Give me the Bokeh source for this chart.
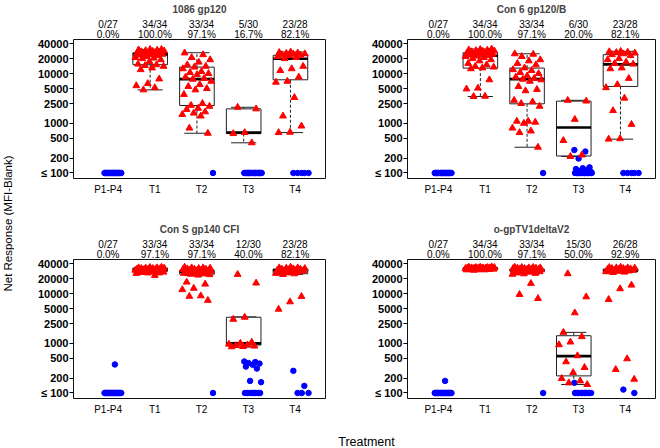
import math
from bokeh.plotting import figure
from bokeh.layouts import row, column
from bokeh.models import FixedTicker, Range1d, LinearAxis, Label
from bokeh.embed import file_html
from bokeh.resources import INLINE

# ---------------- data ----------------
GROUPS = ["P1-P4", "T1", "T2", "T3", "T4"]
Y_TICKS = [100, 200, 500, 1000, 2500, 5000, 10000, 20000, 40000]
Y_TICK_LABELS = ["\u2264 100", "200", "500", "1000", "2500", "5000", "10000", "20000", "40000"]
Y_LABEL = "Net Response (MFI-Blank)"
X_LABEL = "Treatment"

# panel 1: 1086 gp120
GP1086_TITLE = "1086 gp120"
GP1086_FRAC = ["0/27", "34/34", "33/34", "5/30", "23/28"]
GP1086_PCT = ["0.0%", "100.0%", "97.1%", "16.7%", "82.1%"]
GP1086_POS = {
    "T1": [30700, 30500, 30000, 29500, 29000, 28500, 28000, 27500, 27000, 26500, 26000, 25500,
           25000, 24500, 24000, 23500, 23000, 22000, 21000, 20500, 20000, 19000, 17500, 15500,
           15000, 14500, 14000, 13000, 12000, 7800, 6300, 5700, 5200, 4700],
    "T2": [26000, 24000, 21000, 19000, 17000, 15000, 14000, 13500, 12500, 11000, 10500, 10000,
           9500, 8500, 8000, 7700, 7000, 6000, 5500, 5000, 4700, 3800, 2500, 2300, 2200, 2000,
           1900, 1700, 1600, 1500, 1400, 800, 630],
    "T3": [2100, 1950, 650, 620, 405],
    "T4": [27200, 26500, 26000, 25500, 25000, 24500, 24000, 23500, 23000, 22000, 21000, 20000,
           14000, 12500, 11500, 8500, 7000, 6700, 3300, 1400, 880, 660, 650],
}
GP1086_NEG = {"P1-P4": [100] * 27, "T2": [100], "T3": [100] * 25, "T4": [100] * 5}
# box stats: q1, median, q3, lower whisker, upper whisker
GP1086_BOX = {
    "T1": [15100, 24400, 26300, 4700, 30700],
    "T2": [2280, 7740, 13500, 630, 26300],
    "T3": [620, 650, 1950, 405, 2100],
    "T4": [7500, 19900, 23300, 650, 27200],
}

# panel 2: Con 6 gp120/B
CON6_TITLE = "Con 6 gp120/B"
CON6_FRAC = ["0/27", "34/34", "33/34", "6/30", "23/28"]
CON6_PCT = ["0.0%", "100.0%", "97.1%", "20.0%", "82.1%"]
CON6_POS = {
    "T1": [31200, 30500, 30000, 29500, 29000, 28500, 28000, 27500, 27000, 26500, 26000, 25500,
           25000, 24500, 24000, 23500, 23000, 22500, 22000, 21000, 20000, 19000, 18000, 16000,
           15000, 14000, 13500, 13000, 12500, 7500, 5100, 4900, 3500, 3460],
    "T2": [25000, 24500, 22000, 19000, 18000, 16000, 15000, 13000, 12000, 11500, 10500, 10000,
           9000, 8500, 8000, 7700, 7500, 7000, 5500, 4800, 4500, 2900, 2700, 2500, 2200, 1100,
           1100, 1050, 1000, 800, 700, 650, 330],
    "T3": [2900, 2800, 1200, 450, 230, 215],
    "T4": [28000, 27500, 27000, 26500, 26000, 25000, 24000, 23000, 20000, 19000, 17000, 16000,
           15500, 13000, 12500, 8000, 6000, 5200, 3200, 1800, 950, 490, 480],
}
CON6_NEG = {"P1-P4": [100] * 27, "T2": [100],
            "T3": [290, 270, 195, 130, 125, 120, 115, 110, 105] + [100] * 15,
            "T4": [100] * 5}
CON6_BOX = {
    "T1": [12900, 22900, 26300, 3460, 31200],
    "T2": [2465, 7740, 12900, 330, 25000],
    "T3": [220, 825, 2790, 215, 2900],
    "T4": [5510, 15300, 24000, 480, 28000],
}

# panel 3: Con S gp140 CFI
CONS_TITLE = "Con S gp140 CFI"
CONS_FRAC = ["0/27", "33/34", "33/34", "12/30", "23/28"]
CONS_PCT = ["0.0%", "97.1%", "97.1%", "40.0%", "82.1%"]
CONS_POS = {
    "T1": [34000, 33500, 33000, 33000, 32500, 32500, 32000, 32000, 31500, 31500, 31000, 31000,
           30500, 30500, 30000, 30000, 30000, 29500, 29500, 29000, 29000, 28500, 28500, 28000,
           28000, 27500, 27000, 27000, 26500, 26000, 26000, 25500, 23200],
    "T2": [34000, 33000, 33000, 32500, 32000, 31500, 31000, 31000, 30500, 30000, 30000, 29500,
           29000, 29000, 28500, 28000, 28000, 27500, 27000, 26500, 26000, 25500, 25000, 24500,
           24000, 23500, 17000, 15500, 12800, 12000, 9000, 8800, 7300],
    "T3": [24300, 16300, 3340, 3040, 1050, 1000, 960, 930, 900, 880, 860, 850],
    "T4": [34000, 33000, 33000, 32500, 32000, 31500, 31000, 31000, 30500, 30000, 29500, 29000,
           28500, 28000, 27500, 27000, 26000, 25500, 25000, 24300, 8750, 6820, 4850],
}
CONS_NEG = {"P1-P4": [375] + [100] * 26, "T2": [100],
            "T3": [430, 420, 400, 390, 370, 340, 310, 175, 165] + [100] * 9,
            "T4": [279, 139, 100, 100, 100]}
CONS_BOX = {
    "T1": [28000, 30300, 32700, 25500, 34000],
    "T2": [24500, 27500, 29500, 23000, 33000],
    "T3": [922, 995, 3340, 840, 3400],
    "T4": [25100, 29500, 31200, 24300, 33500],
}

# panel 4: o-gpTV1deltaV2
OGP_TITLE = "o-gpTV1deltaV2"
OGP_FRAC = ["0/27", "34/34", "33/34", "15/30", "26/28"]
OGP_PCT = ["0.0%", "100.0%", "97.1%", "50.0%", "92.9%"]
OGP_POS = {
    "T1": [34500, 34000, 34000, 33500, 33500, 33500, 33000, 33000, 33000, 33000, 32500, 32500,
           32500, 32500, 32000, 32000, 32000, 32000, 32000, 31500, 31500, 31500, 31500, 31000,
           31000, 31000, 31000, 30500, 30500, 30500, 30000, 30000, 30000, 29500],
    "T2": [34000, 33500, 33500, 33000, 33000, 32500, 32500, 32000, 32000, 31500, 31500, 31000,
           31000, 30500, 30500, 30000, 30000, 29500, 29500, 29000, 29000, 28500, 28500, 28000,
           27500, 27000, 26000, 25500, 25000, 24500, 16000, 9600, 7960],
    "T3": [25100, 8600, 4100, 1660, 1360, 1060, 935, 561, 424, 326, 258, 196, 175, 160, 148],
    "T4": [34000, 33500, 33000, 33000, 32500, 32000, 32000, 31500, 31000, 31000, 30500, 30000,
           29500, 29000, 28500, 28500, 28000, 27500, 27000, 26500, 14800, 12500, 7600, 488, 297, 189],
}
OGP_NEG = {"P1-P4": [175] + [100] * 26, "T2": [100],
           "T3": [160] + [100] * 14, "T4": [117, 100]}
OGP_BOX = {
    "T1": [31000, 32000, 33000, 30000, 34000],
    "T2": [28500, 29500, 31000, 25000, 33500],
    "T3": [221, 552, 1420, 148, 1660],
    "T4": [27800, 28700, 31200, 26500, 33500],
}

# ---------------- style ----------------
FONT = "Liberation Sans"
RED = "#FF0000"
BLUE = "#0000FF"
GOLD = 0.6180339887


def spread(n, center, half, phase):
    # deterministic, evenly spread horizontal jitter
    return [center + half * (2.0 * ((phase + (k + 1) * GOLD) % 1.0) - 1.0) for k in range(n)]


def count_axis(labels, standoff):
    ax = LinearAxis(ticker=FixedTicker(ticks=[1, 2, 3, 4, 5]),
                    major_label_overrides={i + 1: labels[i] for i in range(5)})
    ax.axis_line_color = None
    ax.major_tick_line_color = None
    ax.minor_tick_line_color = None
    ax.major_tick_out = 0
    ax.major_tick_in = 0
    ax.major_label_standoff = standoff
    ax.major_label_text_font = FONT
    ax.major_label_text_font_size = "10px"
    ax.major_label_text_color = "black"
    return ax


def make_panel(title, fracs, pcts, pos, neg, box, width, height, bl, br, bt, bb, xstart):
    p = figure(width=width, height=height, x_range=Range1d(xstart, 5.65),
               y_range=Range1d(77.5, 48500), y_axis_type="log",
               output_backend="svg", toolbar_location=None, title=title,
               min_border_left=bl, min_border_right=br, min_border_top=bt, min_border_bottom=bb)
    p.title.align = "center"
    p.title.text_font = FONT
    p.title.text_font_size = "10px"
    p.title.text_font_style = "bold"
    p.title.standoff = 2
    p.xgrid.visible = False
    p.ygrid.visible = False
    p.outline_line_color = "#111111"
    p.outline_line_width = 1
    p.outline_line_alpha = 1.0
    p.background_fill_color = "white"
    p.border_fill_color = "white"

    xa = p.xaxis[0]
    xa.ticker = FixedTicker(ticks=[1, 2, 3, 4, 5])
    xa.major_label_overrides = {i + 1: g for i, g in enumerate(GROUPS)}
    xa.axis_line_color = None
    xa.major_tick_line_color = None
    xa.minor_tick_line_color = None
    xa.major_tick_out = 0
    xa.major_label_standoff = 5
    xa.major_label_text_font = FONT
    xa.major_label_text_font_size = "10px"
    xa.major_label_text_color = "black"

    ya = p.yaxis[0]
    ya.ticker = FixedTicker(ticks=Y_TICKS)
    ya.major_label_overrides = {t: l for t, l in zip(Y_TICKS, Y_TICK_LABELS)}
    ya.axis_line_color = None
    ya.minor_tick_line_color = None
    ya.major_tick_out = 4
    ya.major_tick_in = 0
    ya.major_tick_line_color = "black"
    ya.major_label_standoff = 1
    ya.major_label_text_font = FONT
    ya.major_label_text_font_size = "11px"
    ya.major_label_text_font_style = "bold"
    ya.major_label_text_color = "black"

    p.add_layout(count_axis(pcts, 0), "above")
    p.add_layout(count_axis(fracs, -4), "above")

    # boxes (responders only)
    for gi, g in enumerate(GROUPS):
        if g not in box:
            continue
        q1, med, q3, lo, hi = box[g]
        c = gi + 1 - 0.1
        p.segment(x0=[c, c], y0=[q3, q1], x1=[c, c], y1=[hi, lo],
                  line_color="#222222", line_width=1, line_dash="3 2")
        p.segment(x0=[c - 0.27, c - 0.27], y0=[hi, lo], x1=[c + 0.27, c + 0.27], y1=[hi, lo],
                  line_color="#222222", line_width=1)
        p.quad(left=[c - 0.37], right=[c + 0.37], bottom=[q1], top=[q3],
               fill_color="white", line_color="#222222", line_width=1)
        p.segment(x0=[c - 0.37], y0=[med], x1=[c + 0.37], y1=[med],
                  line_color="black", line_width=2.6)

    # points
    for gi, g in enumerate(GROUPS):
        if g in neg:
            vals = neg[g]
            xs = spread(len(vals), gi + 1 + 0.1, 0.19, 0.13 * gi)
            p.scatter(x=xs, y=vals, marker="circle", size=5.5,
                      fill_color=BLUE, line_color=BLUE)
        if g in pos:
            vals = pos[g]
            xs = spread(len(vals), gi + 1 - 0.1, 0.32, 0.21 * gi + 0.05)
            p.scatter(x=xs, y=vals, marker="triangle", size=6.8,
                      fill_color=RED, line_color=RED)
    return p


TOP_H = 220
BOT_H = 200
STRIP_H = 28
TOTAL_H = TOP_H + BOT_H + STRIP_H
YLAB_W = 14
LEFT_W = 320
RIGHT_W = 326

f1 = make_panel(GP1086_TITLE, GP1086_FRAC, GP1086_PCT, GP1086_POS, GP1086_NEG, GP1086_BOX,
                LEFT_W, TOP_H, 59, 9, 39, 42, 0.26)
f2 = make_panel(CON6_TITLE, CON6_FRAC, CON6_PCT, CON6_POS, CON6_NEG, CON6_BOX,
                RIGHT_W, TOP_H, 73, 5, 39, 42, 0.34)
f3 = make_panel(CONS_TITLE, CONS_FRAC, CONS_PCT, CONS_POS, CONS_NEG, CONS_BOX,
                LEFT_W, BOT_H, 59, 9, 39, 22, 0.26)
f4 = make_panel(OGP_TITLE, OGP_FRAC, OGP_PCT, OGP_POS, OGP_NEG, OGP_BOX,
                RIGHT_W, BOT_H, 73, 5, 39, 22, 0.34)


def strip(width, height):
    s = figure(width=width, height=height, x_range=Range1d(0, width), y_range=Range1d(0, height),
               output_backend="svg", toolbar_location=None, min_border=0,
               x_axis_location=None, y_axis_location=None)
    s.xgrid.visible = False
    s.ygrid.visible = False
    s.outline_line_color = None
    s.border_fill_color = "white"
    s.background_fill_color = "white"
    return s


ylab = strip(YLAB_W, TOTAL_H)
ylab.add_layout(Label(x=7, y=TOTAL_H - 223, x_units="screen", y_units="screen", text=Y_LABEL,
                      angle=math.pi / 2, text_align="center", text_baseline="middle",
                      text_font=FONT, text_font_size="11.5px", text_color="black"))

xlab = strip(LEFT_W + RIGHT_W, STRIP_H)
xlab.add_layout(Label(x=366 - YLAB_W, y=STRIP_H - 21, x_units="screen", y_units="screen",
                      text=X_LABEL, text_align="center", text_baseline="middle",
                      text_font=FONT, text_font_size="12.5px", text_color="black"))

layout = row(ylab, column(row(f1, f2), row(f3, f4), xlab))

open("out.html", "w").write(file_html(layout, INLINE))
